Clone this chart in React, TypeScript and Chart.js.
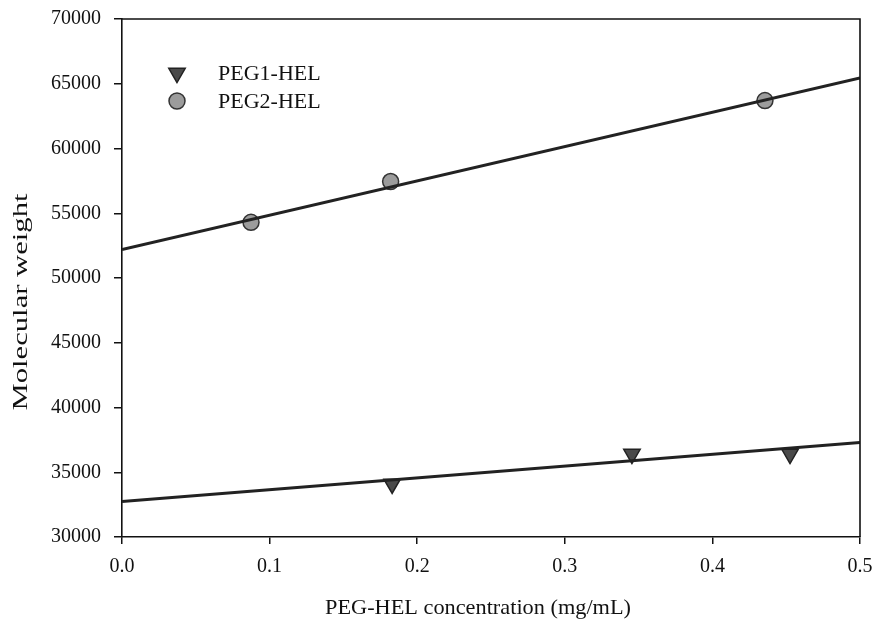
import React, { useEffect, useRef } from "react";
import { Chart, registerables } from "chart.js";

Chart.register(...registerables);

const peg1X = [0.183, 0.3455, 0.4526];
const peg1Y = [34100, 36400, 36400];
const peg2X = [0.0874, 0.182, 0.4356];
const peg2Y = [54300, 57450, 63700];
const fitX = [0, 0.5];
const peg1Fit = [32750, 37300];
const peg2Fit = [52200, 65450];
const legendLabels = ["PEG1-HEL", "PEG2-HEL"];
const xTitle = "PEG-HEL concentration (mg/mL)";
const yTitle = "Molecular weight";

const FONT = "'Liberation Serif', 'Times New Roman', serif";

function drawMarker(ctx: CanvasRenderingContext2D, style: string, x: number, y: number, r: number, rot: number) {
  ctx.beginPath();
  if (style === "circle") {
    ctx.arc(x, y, r, 0, Math.PI * 2);
  } else {
    let rad = (rot * Math.PI) / 180;
    ctx.moveTo(x + Math.sin(rad) * r, y - Math.cos(rad) * r);
    rad += (2 * Math.PI) / 3;
    ctx.lineTo(x + Math.sin(rad) * r, y - Math.cos(rad) * r);
    rad += (2 * Math.PI) / 3;
    ctx.lineTo(x + Math.sin(rad) * r, y - Math.cos(rad) * r);
    ctx.closePath();
  }
  ctx.fill();
  ctx.stroke();
}

const frameAndLegend = {
  id: "frameAndLegend",
  afterDraw(chart: any) {
    const { ctx, chartArea } = chart;
    const { left, right, top, bottom } = chartArea;
    ctx.save();
    ctx.strokeStyle = "#111";
    ctx.lineWidth = 1.6;
    ctx.beginPath();
    ctx.moveTo(left, top);
    ctx.lineTo(right, top);
    ctx.lineTo(right, bottom);
    ctx.stroke();

    // legend
    const mx = left + 55;
    const rows = [top + 54, top + 82];
    const styles = [
      { style: "triangle", fill: "#4a4a4a", stroke: "#222", r: 9.5, rot: 180 },
      { style: "circle", fill: "#9c9c9c", stroke: "#333", r: 8, rot: 0 },
    ];
    ctx.font = `22px ${FONT}`;
    ctx.textBaseline = "middle";
    ctx.textAlign = "left";
    rows.forEach((y, i) => {
      const s = styles[i];
      ctx.fillStyle = s.fill;
      ctx.strokeStyle = s.stroke;
      ctx.lineWidth = 1.5;
      drawMarker(ctx, s.style, mx, y, s.r, s.rot);
      ctx.fillStyle = "#111";
      ctx.fillText(legendLabels[i], left + 96, y + 1);
    });

    // axis titles
    ctx.fillStyle = "#111";
    ctx.font = `22px ${FONT}`;
    ctx.textAlign = "center";
    ctx.textBaseline = "middle";
    const xw = ctx.measureText(xTitle).width;
    ctx.save();
    ctx.translate(478, 608);
    ctx.scale(306 / xw, 1);
    ctx.fillText(xTitle, 0, 0);
    ctx.restore();

    const yw = ctx.measureText(yTitle).width;
    ctx.save();
    ctx.translate(21, 302);
    ctx.rotate(-Math.PI / 2);
    ctx.scale(217 / yw, 1);
    ctx.fillText(yTitle, 0, 0);
    ctx.restore();

    ctx.restore();
  },
};

const zeroPad = (s: any) => {
  s.paddingLeft = 0;
  s.paddingRight = 0;
  s.paddingTop = 0;
  s.paddingBottom = 0;
};

export default function App() {
  const ref = useRef<HTMLCanvasElement>(null);
  useEffect(() => {
    if (!ref.current) return;
    const chart = new Chart(ref.current, {
      type: "scatter",
      data: {
        datasets: [
          {
            type: "line",
            label: "PEG1 fit",
            data: fitX.map((x, i) => ({ x, y: peg1Fit[i] })),
            borderColor: "#222",
            borderWidth: 3,
            pointRadius: 0,
            fill: false,
          },
          {
            type: "line",
            label: "PEG2 fit",
            data: fitX.map((x, i) => ({ x, y: peg2Fit[i] })),
            borderColor: "#222",
            borderWidth: 3,
            pointRadius: 0,
            fill: false,
          },
          {
            label: legendLabels[0],
            data: peg1X.map((x, i) => ({ x, y: peg1Y[i] })),
            pointStyle: "triangle",
            rotation: 180,
            pointRadius: 9.5,
            backgroundColor: "#4a4a4a",
            borderColor: "#222",
            borderWidth: 1.5,
          },
          {
            label: legendLabels[1],
            data: peg2X.map((x, i) => ({ x, y: peg2Y[i] })),
            pointStyle: "circle",
            pointRadius: 8,
            backgroundColor: "#9c9c9c",
            borderColor: "#333",
            borderWidth: 1.5,
          },
        ],
      },
      options: {
        animation: false,
        responsive: false,
        layout: { autoPadding: false, padding: { left: 0, right: 15, top: 19, bottom: 0 } },
        plugins: { legend: { display: false }, tooltip: { enabled: false } },
        scales: {
          x: {
            type: "linear",
            min: 0,
            max: 0.5,
            afterFit: (s: any) => {
              s.height = 86;
              zeroPad(s);
            },
            ticks: {
              stepSize: 0.1,
              color: "#111",
              padding: 11,
              font: { family: FONT, size: 20 },
              callback: (v: any) => Number(v).toFixed(1),
            },
            grid: { drawOnChartArea: false, drawTicks: true, tickLength: 7, color: "#111", lineWidth: 1.5 },
            border: { display: true, color: "#111", width: 1.6 },
            title: { display: false },
          },
          y: {
            type: "linear",
            min: 30000,
            max: 70000,
            afterFit: (s: any) => {
              s.width = 122;
              zeroPad(s);
            },
            ticks: {
              stepSize: 5000,
              color: "#111",
              padding: 13,
              font: { family: FONT, size: 20 },
              callback: (v: any) => String(v),
            },
            grid: { drawOnChartArea: false, drawTicks: true, tickLength: 8, color: "#111", lineWidth: 1.5 },
            border: { display: true, color: "#111", width: 1.6 },
            title: { display: false },
          },
        },
      },
      plugins: [frameAndLegend],
    } as any);
    return () => chart.destroy();
  }, []);
  return (
    <div style={{ position: "fixed", left: 0, top: 0, width: 875, height: 623, background: "#fff" }}>
      <canvas ref={ref} width={875} height={623} />
    </div>
  );
}
